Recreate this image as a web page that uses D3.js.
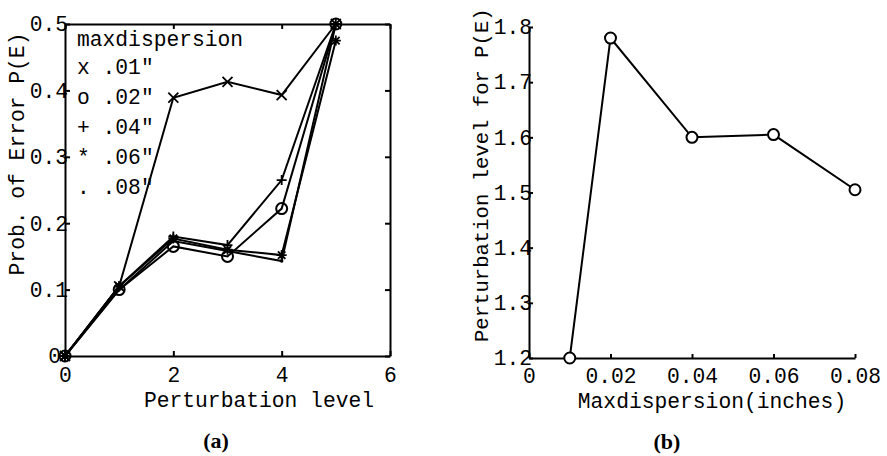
<!DOCTYPE html>
<html>
<head>
<meta charset="utf-8">
<script src="https://cdn.jsdelivr.net/npm/d3@7"></script>
<style>
  body { margin: 0; background: #fff; }
  svg { display: block; }
  .axis path, .axis line { stroke: #000; stroke-width: 2; }
  .axis text { font-family: "Liberation Mono", "DejaVu Sans Mono", monospace; font-size: 21.3px; fill: #000; }
  .lbl { font-family: "Liberation Mono", "DejaVu Sans Mono", monospace; font-size: 21.3px; fill: #000; }
  .cap { font-family: "Liberation Serif", "DejaVu Serif", serif; font-weight: bold; font-size: 22px; fill: #000; }
</style>
</head>
<body>
<div id="chart"></div>
<script>
// panel (a): P(E) vs perturbation level, one series per maxdispersion
var levels = [0, 1, 2, 3, 4, 5];
var pe01 = [0, 0.105, 0.389, 0.413, 0.393, 0.5];
var pe02 = [0, 0.100, 0.165, 0.150, 0.222, 0.5];
var pe04 = [0, 0.105, 0.180, 0.167, 0.265, 0.5];
var pe06 = [0, 0.105, 0.177, 0.160, 0.152, 0.475];
var pe08 = [0, 0.100, 0.173, 0.158, 0.143, 0.5];
var legendLabels = ["x .01\"", "o .02\"", "+ .04\"", "* .06\"", ". .08\""];
var xTicksA = [0, 2, 4, 6];
var yTicksA = [0, 0.1, 0.2, 0.3, 0.4, 0.5];

// panel (b): perturbation level for P(E) vs maxdispersion
var maxdisp = [0.01, 0.02, 0.04, 0.06, 0.08];
var levelForPE = [1.2, 1.78, 1.60, 1.605, 1.505];
var xTicksB = [0, 0.02, 0.04, 0.06, 0.08];
var yTicksB = [1.2, 1.3, 1.4, 1.5, 1.6, 1.7, 1.8];

var width = 887, height = 456;

var svg = d3.select("#chart").append("svg")
  .attr("width", width)
  .attr("height", height);

// ---------- panel (a) ----------
var xA = d3.scaleLinear().domain([0, 6]).range([65, 390]);
var yA = d3.scaleLinear().domain([0, 0.5]).range([356, 24]);

function fmtA(d) { return d === 0 ? "0" : d3.format(".1f")(d); }

svg.append("g").attr("class", "axis")
  .attr("transform", "translate(0," + yA(0) + ")")
  .call(d3.axisBottom(xA).tickValues(xTicksA).tickSizeInner(-5).tickSizeOuter(0).tickPadding(11).tickFormat(d3.format("d")));

svg.append("g").attr("class", "axis")
  .attr("transform", "translate(0," + yA(0.5) + ")")
  .call(d3.axisTop(xA).tickValues(xTicksA).tickSizeInner(-5).tickSizeOuter(0).tickFormat(""));

var yAxisA = svg.append("g").attr("class", "axis")
  .attr("transform", "translate(" + xA(0) + ",0)")
  .call(d3.axisLeft(yA).tickValues(yTicksA).tickSizeInner(-5).tickSizeOuter(0).tickPadding(-3).tickFormat(fmtA));

// the lone "0" sits a little left of the axis
yAxisA.selectAll(".tick text").filter(function(d) { return d === 0; }).attr("x", -4);

svg.append("g").attr("class", "axis")
  .attr("transform", "translate(" + xA(6) + ",0)")
  .call(d3.axisRight(yA).tickValues(yTicksA).tickSizeInner(-5).tickSizeOuter(0).tickFormat(""));

svg.selectAll(".axis .domain").attr("fill", "none");

var lineA = d3.line()
  .x(function(d, i) { return xA(levels[i]); })
  .y(function(d) { return yA(d); });

var seriesA = [
  { vals: pe01, mark: "x" },
  { vals: pe02, mark: "o" },
  { vals: pe04, mark: "+" },
  { vals: pe06, mark: "*" },
  { vals: pe08, mark: "." }
];

function markPath(m) {
  var s = 5;
  if (m === "x") return "M" + -s + "," + -s + "L" + s + "," + s + "M" + -s + "," + s + "L" + s + "," + -s;
  if (m === "+") return "M" + -s + ",0L" + s + ",0M0," + -s + "L0," + s;
  if (m === "*") {
    var t = s * 0.75;
    return "M" + -s + ",0L" + s + ",0M0," + -s + "L0," + s +
      "M" + -t + "," + -t + "L" + t + "," + t + "M" + -t + "," + t + "L" + t + "," + -t;
  }
  return null;
}

seriesA.forEach(function(s) {
  svg.append("path")
    .datum(s.vals)
    .attr("fill", "none")
    .attr("stroke", "#000")
    .attr("stroke-width", 2)
    .attr("d", lineA);

  var g = svg.append("g");
  var pts = g.selectAll("g").data(s.vals).enter().append("g")
    .attr("transform", function(d, i) { return "translate(" + xA(levels[i]) + "," + yA(d) + ")"; });

  if (s.mark === "o") {
    pts.append("circle").attr("r", 5.5).attr("fill", "none").attr("stroke", "#000").attr("stroke-width", 2);
  } else if (s.mark === ".") {
    pts.append("circle").attr("r", 1.8).attr("fill", "#000");
  } else {
    pts.append("path").attr("d", markPath(s.mark)).attr("stroke", "#000").attr("stroke-width", 1.8).attr("fill", "none");
  }
});

// legend text
svg.append("text").attr("class", "lbl").attr("x", 77).attr("y", 46).text("maxdispersion");
legendLabels.forEach(function(t, i) {
  svg.append("text").attr("class", "lbl")
    .attr("x", 77).attr("y", 74 + i * 30)
    .attr("xml:space", "preserve")
    .text(t);
});

svg.append("text").attr("class", "lbl")
  .attr("text-anchor", "middle")
  .attr("x", 259).attr("y", 407)
  .text("Perturbation level");

svg.append("text").attr("class", "lbl")
  .attr("text-anchor", "middle")
  .attr("transform", "translate(24,154) rotate(-90)")
  .text("Prob. of Error P(E)");

svg.append("text").attr("class", "cap")
  .attr("text-anchor", "middle")
  .attr("x", 216).attr("y", 448)
  .text("(a)");

// ---------- panel (b) ----------
var xB = d3.scaleLinear().domain([0, 0.08]).range([529, 855]);
var yB = d3.scaleLinear().domain([1.2, 1.8]).range([358, 27]);

svg.append("g").attr("class", "axis")
  .attr("transform", "translate(0," + yB(1.2) + ")")
  .call(d3.axisBottom(xB).tickValues(xTicksB).tickSizeInner(-4).tickSizeOuter(0).tickPadding(10)
    .tickFormat(function(d) { return d === 0 ? "0" : d3.format(".2f")(d); }));

svg.append("g").attr("class", "axis")
  .attr("transform", "translate(" + xB(0) + ",0)")
  .call(d3.axisLeft(yB).tickValues(yTicksB).tickSizeInner(-4).tickSizeOuter(0).tickPadding(-3)
    .tickFormat(d3.format(".1f")));

svg.selectAll(".axis .domain").attr("fill", "none");

var lineB = d3.line()
  .x(function(d, i) { return xB(maxdisp[i]); })
  .y(function(d) { return yB(d); });

svg.append("path")
  .datum(levelForPE)
  .attr("fill", "none")
  .attr("stroke", "#000")
  .attr("stroke-width", 2)
  .attr("d", lineB);

svg.selectAll(".ptB").data(levelForPE).enter().append("circle")
  .attr("class", "ptB")
  .attr("cx", function(d, i) { return xB(maxdisp[i]); })
  .attr("cy", function(d) { return yB(d); })
  .attr("r", 5.5)
  .attr("fill", "#fff")
  .attr("stroke", "#000")
  .attr("stroke-width", 2);

svg.append("text").attr("class", "lbl")
  .attr("text-anchor", "middle")
  .attr("x", 712).attr("y", 408)
  .text("Maxdispersion(inches)");

svg.append("text").attr("class", "lbl")
  .attr("text-anchor", "start")
  .style("font-size", "20.6px")
  .attr("transform", "translate(488,342) rotate(-90)")
  .text("Perturbation level for P(E)");

svg.append("text").attr("class", "cap")
  .attr("text-anchor", "middle")
  .attr("x", 667).attr("y", 449)
  .text("(b)");
</script>
</body>
</html>
